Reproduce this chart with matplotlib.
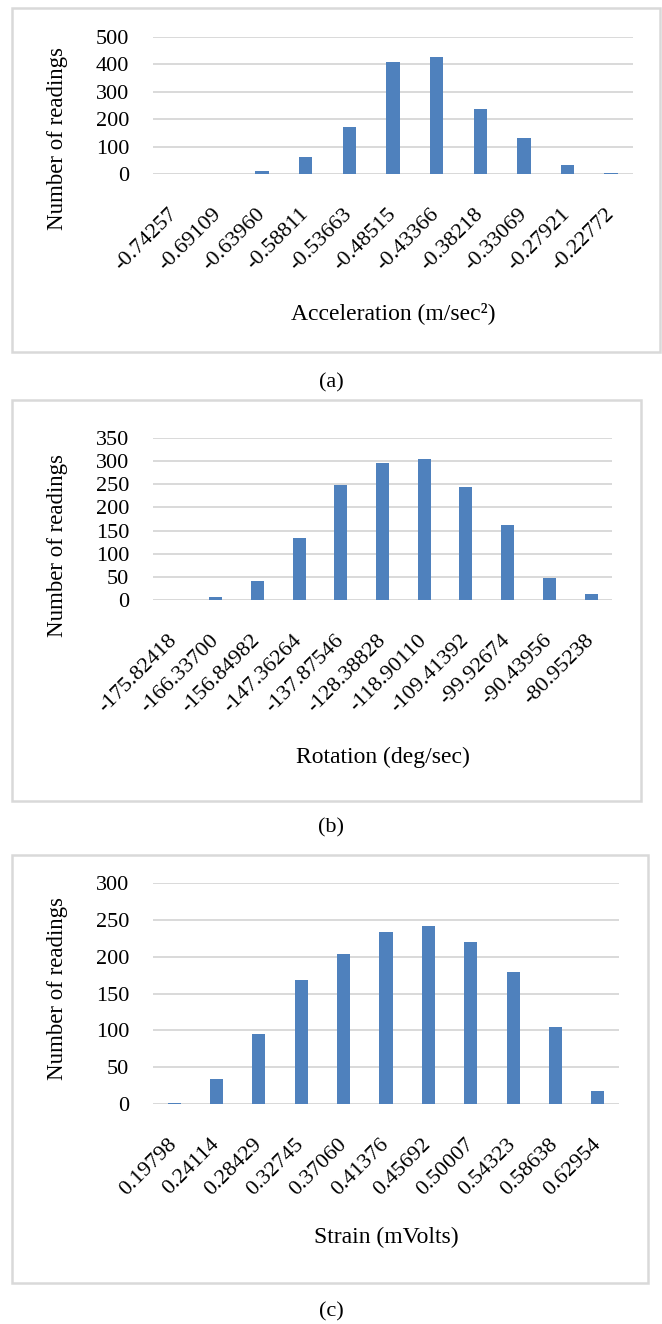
import matplotlib
matplotlib.use("Agg")
import matplotlib.pyplot as plt
from matplotlib.patches import Rectangle

plt.rcParams["font.family"] = ["Liberation Serif", "DejaVu Serif"]

# (a) acceleration
acc_bins = ["-0.74257", "-0.69109", "-0.63960", "-0.58811", "-0.53663", "-0.48515",
            "-0.43366", "-0.38218", "-0.33069", "-0.27921", "-0.22772"]
acc_counts = [0, 0, 11, 62, 172, 407, 427, 238, 132, 34, 3]

# (b) rotation
rot_bins = ["-175.82418", "-166.33700", "-156.84982", "-147.36264", "-137.87546", "-128.38828",
            "-118.90110", "-109.41392", "-99.92674", "-90.43956", "-80.95238"]
rot_counts = [0, 6, 40, 135, 248, 296, 305, 244, 163, 47, 13]

# (c) strain
strain_bins = ["0.19798", "0.24114", "0.28429", "0.32745", "0.37060", "0.41376",
               "0.45692", "0.50007", "0.54323", "0.58638", "0.62954"]
strain_counts = [1, 34, 95, 168, 204, 234, 242, 220, 179, 104, 17]

W, H = 662, 1324
BAR = "#4F81BD"
GRID = "#D9D9D9"
FS = 16

fig = plt.figure(figsize=(W / 100, H / 100), dpi=100)


def px_axes(left, top, right, bottom):
    return fig.add_axes([left / W, 1 - bottom / H, (right - left) / W, (bottom - top) / H])


def box(left, top, right, bottom):
    fig.patches.append(Rectangle((left / W, 1 - bottom / H), (right - left) / W, (bottom - top) / H,
                                 transform=fig.transFigure, fill=False, edgecolor=GRID, linewidth=1.8))


def panel(rect, bins, counts, ymax, step, xlabel, xlab_y, ylab_y, frame, caption, cap_y):
    ax = px_axes(*rect)
    x = range(len(bins))
    ax.bar(x, counts, width=0.31, color=BAR, zorder=3)
    ax.set_xlim(-0.5, len(bins) - 0.5)
    ax.set_ylim(0, ymax)
    ax.set_yticks(range(0, ymax + 1, step))
    ax.set_xticks(list(x))
    ax.set_xticklabels(bins, rotation=45, ha="right", va="center", rotation_mode="anchor")
    ax.tick_params(axis="both", length=0, labelsize=FS)
    ax.tick_params(axis="y", pad=17)
    ax.tick_params(axis="x", pad=27)
    ax.grid(axis="y", color=GRID, linewidth=1.4, zorder=0)
    for s in ax.spines.values():
        s.set_visible(False)
    ax.axhline(0, color=GRID, linewidth=1.4, zorder=2)
    cx = (rect[0] + rect[2]) / 2
    fig.text(cx / W, 1 - xlab_y / H, xlabel, ha="center", va="center", fontsize=FS + 1)
    fig.text(58 / W, 1 - ylab_y / H, "Number of readings", rotation=90,
             ha="center", va="center", fontsize=FS + 0.5)
    box(*frame)
    fig.text(331 / W, 1 - cap_y / H, caption, ha="center", va="center", fontsize=FS)


panel((153, 37, 633, 174), acc_bins, acc_counts, 500, 100,
      "Acceleration (m/sec²)", 313, 138, (12, 8, 660, 352), "(a)", 383)
panel((153, 438, 612, 600), rot_bins, rot_counts, 350, 50,
      "Rotation (deg/sec)", 757, 546, (12, 400, 641, 801), "(b)", 828)
panel((153, 883, 619, 1104), strain_bins, strain_counts, 300, 50,
      "Strain (mVolts)", 1237, 989, (12, 855, 648, 1283), "(c)", 1312)

fig.savefig("out.png", dpi=100)
